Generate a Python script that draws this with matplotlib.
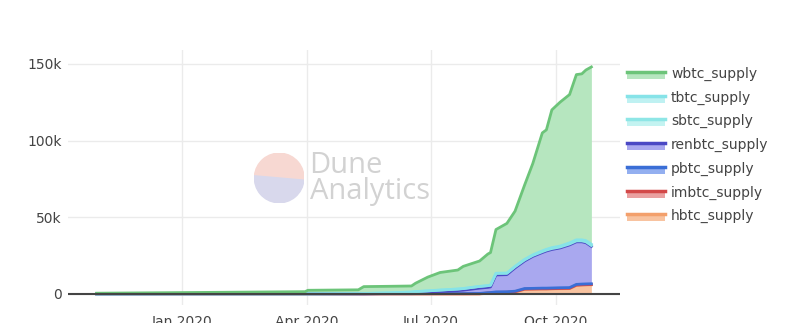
"""Stacked BTC-on-Ethereum supply chart (Dune Analytics style)."""
import numpy as np
import pandas as pd
import matplotlib
matplotlib.use('Agg')
import matplotlib.pyplot as plt
import matplotlib.dates as mdates
from matplotlib.patches import Wedge, Rectangle

plt.rcParams['font.family'] = ['DejaVu Sans']

# data (thousands of BTC)
dates = pd.to_datetime([
    '2019-10-30', '2019-12-01', '2020-01-01', '2020-02-01', '2020-03-01', '2020-03-31',
    '2020-04-02', '2020-05-09', '2020-05-13', '2020-06-01', '2020-06-17', '2020-06-20',
    '2020-06-29', '2020-07-08', '2020-07-21', '2020-07-25', '2020-08-06', '2020-08-12',
    '2020-08-14', '2020-08-18', '2020-08-26', '2020-09-01', '2020-09-08', '2020-09-14',
    '2020-09-21', '2020-09-24', '2020-09-28', '2020-10-04', '2020-10-11', '2020-10-16',
    '2020-10-20', '2020-10-23', '2020-10-27'])

hbtc_supply = [0, 0, 0, 0, 0, 0, 0, 0, 0, 0, 0, 0, 0, 0, 0, 0, 0, 0.5, 0.6, 0.9, 1.0, 1.3,
               3.0, 3.1, 3.2, 3.2, 3.3, 3.4, 3.5, 5.6, 5.8, 5.9, 6.0]
imbtc_supply = [0.05, 0.08, 0.1, 0.1, 0.1, 0.1, 0.1, 0.1, 0.1, 0.1, 0.1, 0.1, 0.1, 0.1, 0.1, 0.1,
                0.15, 0.15, 0.15, 0.15, 0.15, 0.15, 0.15, 0.15, 0.15, 0.15, 0.15, 0.15, 0.15,
                0.15, 0.15, 0.15, 0.15]
pbtc_supply = [0, 0, 0, 0, 0, 0, 0, 0, 0, 0.05, 0.05, 0.08, 0.1, 0.12, 0.15, 0.15, 0.2, 0.2,
               0.2, 0.3, 0.3, 0.35, 0.4, 0.4, 0.45, 0.45, 0.45, 0.5, 0.5, 0.5, 0.5, 0.5, 0.5]
renbtc_supply = [0, 0, 0, 0, 0, 0, 0, 0, 0, 0.15, 0.45, 0.62, 1.0, 1.38, 1.95, 2.25, 3.45, 3.45,
                 3.65, 11.05, 11.15, 15.2, 17.95, 20.85, 23.2, 24.2, 25.1, 25.95, 27.85,
                 27.75, 27.55, 26.85, 24.35]
sbtc_supply = [0, 0, 0, 0, 0, 0, 0, 0.1, 0.2, 0.4, 0.6, 0.7, 0.8, 0.9, 1.0, 1.0, 1.1, 1.1, 1.1,
               1.0, 0.9, 0.8, 0.7, 0.6, 0.6, 0.6, 0.6, 0.6, 0.6, 0.6, 0.6, 0.6, 0.6]
tbtc_supply = [0, 0, 0, 0, 0, 0, 0, 0, 0, 0.05, 0.05, 0.05, 0.05, 0.05, 0.05, 0.05, 0.05, 0.05,
               0.05, 0.1, 0.1, 0.2, 0.3, 0.4, 0.5, 0.5, 0.6, 0.6, 0.7, 0.7, 0.7, 0.8, 0.8]
wbtc_supply = [0.45, 0.62, 0.8, 1.0, 1.2, 1.4, 2.3, 2.5, 4.5, 4.25, 3.95, 5.45, 8.95, 11.45,
               12.35, 14.45, 16.55, 20.55, 21.25, 28.5, 32.4, 36.0, 48.5, 59.5, 76.9, 77.9,
               89.8, 93.8, 96.7, 107.7, 108.2, 111.2, 115.6]

# bottom of the stack first
series_names = ['hbtc_supply', 'imbtc_supply', 'pbtc_supply', 'renbtc_supply',
                'sbtc_supply', 'tbtc_supply', 'wbtc_supply']
series_values = [hbtc_supply, imbtc_supply, pbtc_supply, renbtc_supply,
                 sbtc_supply, tbtc_supply, wbtc_supply]
line_colors = ['#f3a06c', '#d34848', '#3a6ed6', '#4a48c4', '#8ee6e6', '#86e3e8', '#6cc479']
fill_colors = ['#f8c3a0', '#eaa0a0', '#93aff0', '#a9a8ef', '#c3f3f1', '#bff1f2', '#b6e6bf']

fig = plt.figure(figsize=(8, 3.23), dpi=100)
ax = fig.add_axes([0.085, 0.0557, 0.69, 0.7893])

# watermark
logo_ax = fig.add_axes([0.318, 0.372, 0.062, 0.154])
logo_ax.set_xlim(-1, 1)
logo_ax.set_ylim(-1, 1)
logo_ax.set_aspect('equal')
logo_ax.axis('off')
logo_ax.add_patch(Wedge((0, 0), 1, -5, 175, color='#f7d8d2'))
logo_ax.add_patch(Wedge((0, 0), 1, 175, 355, color='#d8d8ec'))
fig.text(0.387, 0.448, 'Dune\nAnalytics', fontsize=21, color='#d2d2d2', va='center',
         ha='left', family='Open Sans', linespacing=0.88)

base = np.zeros(len(dates))
for name, vals, lc, fc in zip(series_names, series_values, line_colors, fill_colors):
    top = base + np.array(vals) * 1000
    ax.fill_between(dates, base, top, color=fc, lw=0, zorder=2)
    ax.plot(dates, top, color=lc, lw=2, zorder=3, solid_joinstyle='round')
    base = top

ax.set_ylim(-7200, 159000)
ax.set_xlim(pd.Timestamp('2019-10-09'), pd.Timestamp('2020-11-17'))
ax.set_yticks([0, 50000, 100000, 150000])
ax.set_yticklabels(['0', '50k', '100k', '150k'])
ax.set_xticks(pd.to_datetime(['2020-01-01', '2020-04-01', '2020-07-01', '2020-10-01']))
ax.xaxis.set_major_formatter(mdates.DateFormatter('%b %Y'))
ax.grid(True, color='#ebebeb', lw=1, zorder=0)
ax.axhline(0, color='#444444', lw=1.5, zorder=4)
for s in ax.spines.values():
    s.set_visible(False)
ax.tick_params(length=0, labelsize=10, colors='#444444', pad=4.5)
ax.tick_params(axis='x', pad=7)
ax.patch.set_alpha(0)

# legend (top of stack first)
leg_y0 = 1 - 74 / 323
for i, (name, lc, fc) in enumerate(zip(series_names[::-1], line_colors[::-1], fill_colors[::-1])):
    y = leg_y0 - i * 23.7 / 323
    fig.patches.append(Rectangle((627 / 800, y - 5 / 323), 38 / 800, 8 / 323,
                                 transform=fig.transFigure, color=fc, lw=0))
    fig.lines.append(plt.Line2D([627 / 800, 665 / 800], [y + 2 / 323, y + 2 / 323],
                                transform=fig.transFigure, color=lc, lw=2.5))
    fig.text(671 / 800, y, name, fontsize=10, color='#444444', va='center', ha='left')

fig.savefig('out.png', dpi=100)
